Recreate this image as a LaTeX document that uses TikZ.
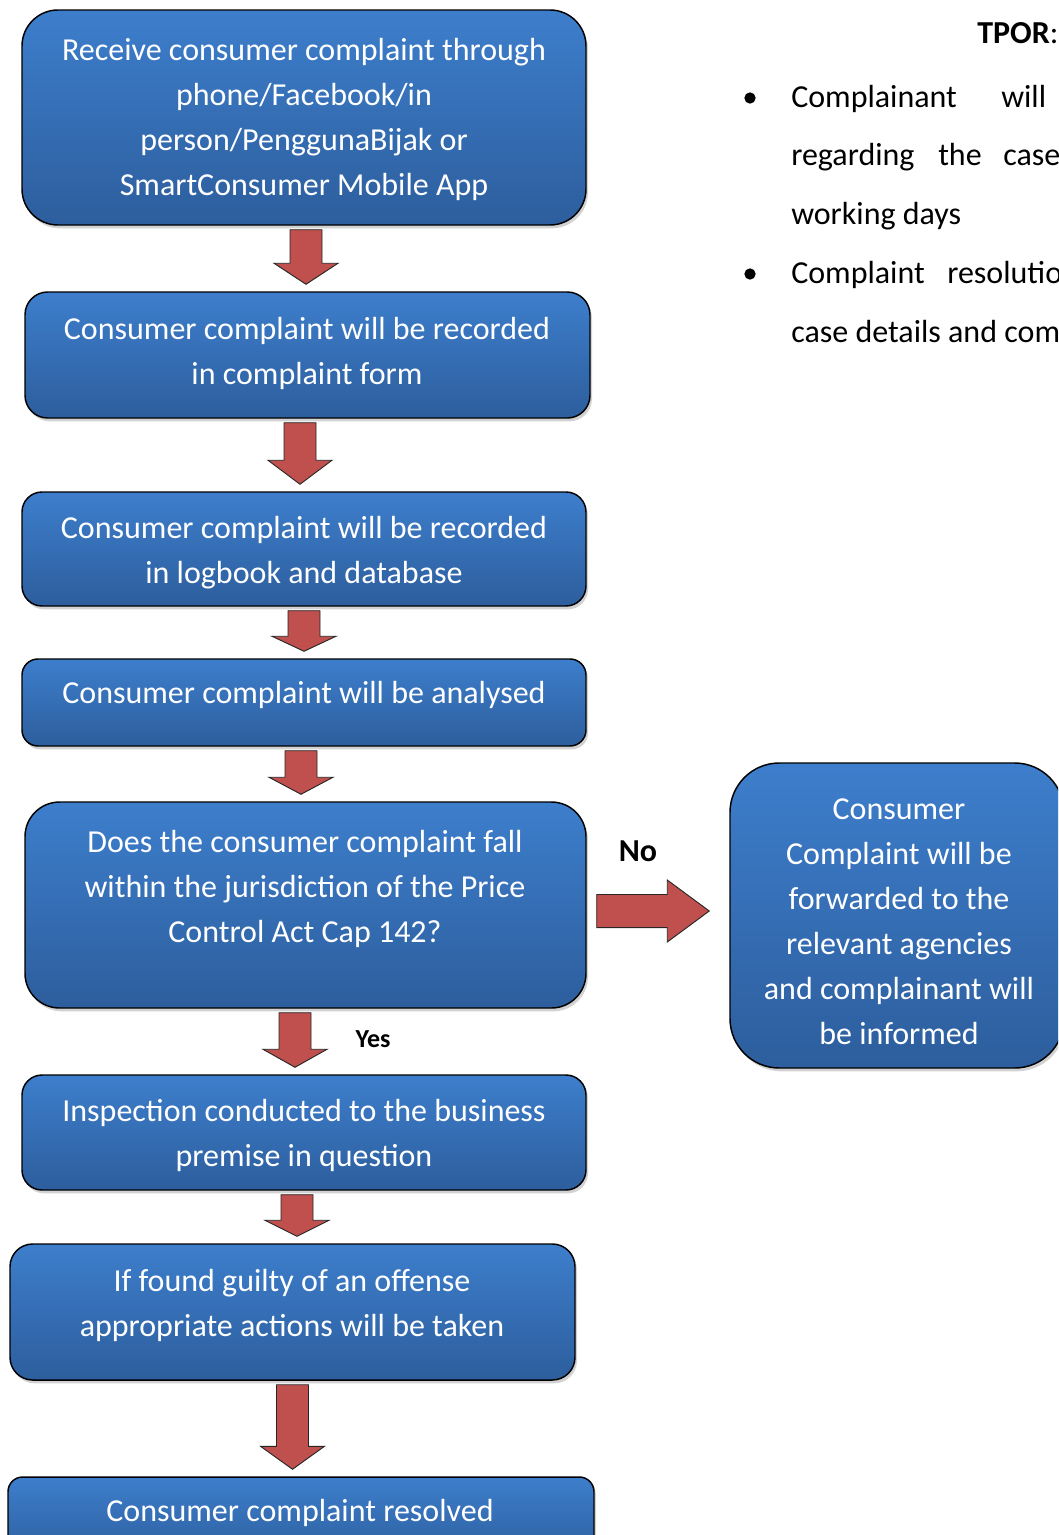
\documentclass[tikz,border=0pt]{standalone}
\usepackage{fontspec}
\setmainfont{Carlito}
\usetikzlibrary{calc,shadows}

\definecolor{boxtop}{RGB}{61,126,204}
\definecolor{boxbottom}{RGB}{45,94,157}
\definecolor{arrowred}{RGB}{192,80,77}

\tikzset{
  flowbox/.style={draw=black, line width=1.1pt, top color=boxtop, bottom color=boxbottom,
    drop shadow={shadow xshift=1.5pt, shadow yshift=-2.5pt, fill=black!35}, inner sep=0pt},
  boxsize/.style 2 args={minimum width=#1*0.75pt, minimum height=#2*0.75pt},
  boxtext/.style={text=white, align=center, font=\fontsize{24}{33.75}\selectfont, inner sep=0pt},
  sidetext/.style={anchor=mid west, font=\fontsize{24}{33.75}\selectfont, inner sep=0pt},
  bulletdot/.style={circle, fill=black, inner sep=0pt, minimum size=8.5pt},
  blockarrow/.style={fill=arrowred, draw=black!85, line width=0.7pt, line join=miter},
}

% block arrow pointing down: from box, to box, x shift, head length (px)
\newcommand{\blockdown}[4]{%
  \draw[blockarrow] let \p1=($(#1.south)+(#3,4)$), \p2=($(#2.north)+(#3,-7)$) in
    (\x1-12pt,\y1) -- (\x1+12pt,\y1) -- (\x1+12pt,\y2+#4*0.75pt) -- (\x1+24pt,\y2+#4*0.75pt)
    -- (\x1,\y2) -- (\x1-24pt,\y2+#4*0.75pt) -- (\x1-12pt,\y2+#4*0.75pt) -- cycle;}

\begin{document}
\begin{tikzpicture}[x=0.75pt,y=-0.75pt]
  \useasboundingbox (0,0) rectangle (1058,1535);
  \clip (0,0) rectangle (1058,1535);

  % boxes
  \node[flowbox, boxsize={564}{215}, rounded corners=27pt] (b1) at (304,117.5) {};
  \node[flowbox, boxsize={565}{126}, rounded corners=17pt] (b2) at (307.5,355) {};
  \node[flowbox, boxsize={564}{114}, rounded corners=15pt] (b3) at (304,549) {};
  \node[flowbox, boxsize={564}{87}, rounded corners=12pt] (b4) at (304,702.5) {};
  \node[flowbox, boxsize={561}{206}, rounded corners=26pt] (b5) at (305.5,905) {};
  \node[flowbox, boxsize={334}{305}, rounded corners=37pt] (b6) at (897,915.5) {};
  \node[flowbox, boxsize={564}{115}, rounded corners=15pt] (b7) at (304,1132.5) {};
  \node[flowbox, boxsize={565}{136}, rounded corners=17pt] (b8) at (292.5,1312) {};
  \node[flowbox, boxsize={586}{83}, rounded corners=11pt] (b9) at (301,1518.5) {};

  % box texts
  \node[boxtext] (t1) at (304,119.5) {Receive consumer complaint through\\phone/Facebook/in\\person/PenggunaBijak or\\SmartConsumer Mobile App};
  \node[boxtext] (t2) at (307,353) {Consumer complaint will be recorded\\in complaint form};
  \node[boxtext] (t3) at (304,552.5) {Consumer complaint will be recorded\\in logbook and database};
  \node[boxtext] (t4) at (304,695) {Consumer complaint will be analysed};
  \node[boxtext] (t5) at (305,889) {Does the consumer complaint fall\\within the jurisdiction of the Price\\Control Act Cap 142?};
  \node[boxtext] (t6) at (899,921.5) {Consumer\\Complaint will be\\forwarded to the\\relevant agencies\\and complainant will\\be informed};
  \node[boxtext] (t7) at (304,1135.5) {Inspection conducted to the business\\premise in question};
  \node[boxtext] (t8) at (292,1305.5) {If found guilty of an offense\\appropriate actions will be taken};
  \node[boxtext] (t9) at (300,1513) {Consumer complaint resolved};

  % arrows
  \blockdown{b1}{b2}{2}{21}
  \blockdown{b2}{b3}{-7.5}{24}
  \blockdown{b3}{b4}{0}{15}
  \blockdown{b4}{b5}{-3}{17}
  \blockdown{b5}{b7}{-10.5}{18}
  \blockdown{b7}{b8}{-7}{16}
  \blockdown{b8}{b9}{0}{23}
  \draw[blockarrow] let \p1=($(b5.east)+(10,6)$), \p2=($(b6.west)+(-20,0)$) in
    (\x1,\y1+12.4pt) -- (\x2-31.5pt,\y1+12.4pt) -- (\x2-31.5pt,\y1+23.25pt) -- (\x2,\y1)
    -- (\x2-31.5pt,\y1-23.25pt) -- (\x2-31.5pt,\y1-12.4pt) -- (\x1,\y1-12.4pt) -- cycle;

  \node[font=\fontsize{24}{28}\selectfont\bfseries, inner sep=0pt] (no) at (638,851) {No};
  \node[font=\fontsize{19.5}{24}\selectfont\bfseries, inner sep=0pt] (yes) at (373,1039) {Yes};

  % TPOR notes
  \node[sidetext] (tpor) at (977,40) {\textbf{TPOR}:};
  \node[bulletdot] (bul1) at (750,98) {};
  \node[bulletdot] (bul2) at (750,274) {};
  \node[sidetext] (n1a) at (791,104) {Complainant};
  \node[sidetext] (n1b) at (1001,104) {will};
  \node[sidetext] (n2a) at (791,162) {regarding};
  \node[sidetext] (n2b) at (938,162) {the};
  \node[sidetext] (n2c) at (1003,162) {case};
  \node[sidetext] (n3) at (791,221) {working days};
  \node[sidetext] (n4a) at (791,280) {Complaint};
  \node[sidetext] (n4b) at (947,280) {resolutio};
  \node[sidetext] (n5) at (791,339) {case details and com};
\end{tikzpicture}
\end{document}
